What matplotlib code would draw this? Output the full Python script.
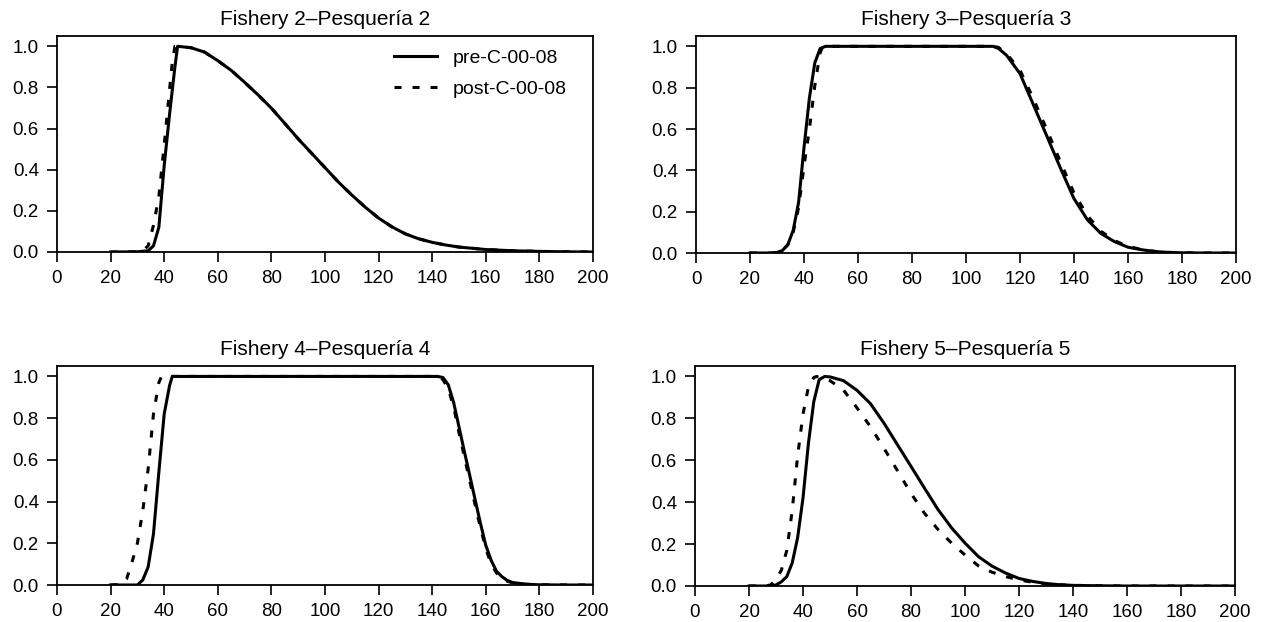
import matplotlib
matplotlib.use("Agg")
import matplotlib.pyplot as plt

plt.rcParams["font.family"] = ["Liberation Sans", "DejaVu Sans"]
plt.rcParams["font.size"] = 14

series_labels = ["pre-C-00-08", "post-C-00-08"]
panel_titles = ["Fishery 2\u2013Pesquer\u00eda 2", "Fishery 3\u2013Pesquer\u00eda 3",
                "Fishery 4\u2013Pesquer\u00eda 4", "Fishery 5\u2013Pesquer\u00eda 5"]

x_ticks = [0, 20, 40, 60, 80, 100, 120, 140, 160, 180, 200]
y_ticks = [0.0, 0.2, 0.4, 0.6, 0.8, 1.0]

# Fishery 2 selectivity at length
f2_len_pre = [20, 30, 34, 36, 38, 40, 42, 44, 45, 50, 55, 60, 65, 70, 75, 80, 85, 90, 95,
              100, 105, 110, 115, 120, 125, 130, 135, 140, 145, 150, 160, 170, 180, 190, 200]
f2_sel_pre = [0, 0.001, 0.006, 0.03, 0.12, 0.42, 0.67, 0.90, 1.0, 0.993, 0.972, 0.93, 0.883,
              0.825, 0.764, 0.699, 0.625, 0.55, 0.48, 0.41, 0.34, 0.277, 0.218, 0.165, 0.122,
              0.088, 0.064, 0.047, 0.034, 0.024, 0.012, 0.006, 0.003, 0.001, 0.0]
f2_len_post = [20, 30, 32, 34, 36, 38, 40, 42, 43, 44, 50, 55, 60, 65, 70, 75, 80, 85, 90, 95,
               100, 105, 110, 115, 120, 125, 130, 135, 140, 145, 150, 160, 170, 180, 190, 200]
f2_sel_post = [0, 0.001, 0.005, 0.03, 0.13, 0.27, 0.52, 0.79, 0.92, 1.0, 0.993, 0.972, 0.93,
               0.883, 0.825, 0.764, 0.699, 0.625, 0.55, 0.48, 0.41, 0.34, 0.277, 0.218, 0.165,
               0.122, 0.088, 0.064, 0.047, 0.034, 0.024, 0.012, 0.006, 0.003, 0.001, 0.0]

# Fishery 3 selectivity at length
f3_len_pre = [20, 28, 30, 32, 34, 36, 38, 40, 42, 44, 46, 48, 110, 112, 115, 120, 125, 130,
              135, 140, 145, 150, 155, 160, 165, 170, 175, 180, 190, 200]
f3_sel_pre = [0, 0.0, 0.003, 0.012, 0.04, 0.11, 0.245, 0.51, 0.75, 0.92, 0.99, 1.0, 1.0, 0.99,
              0.957, 0.868, 0.716, 0.564, 0.41, 0.263, 0.16, 0.094, 0.055, 0.028, 0.016, 0.007,
              0.003, 0.001, 0.0, 0.0]
f3_len_post = [20, 28, 30, 32, 34, 36, 38, 40, 42, 44, 46, 47, 110, 112, 115, 120, 125, 130,
               135, 140, 145, 150, 155, 160, 165, 170, 175, 180, 190, 200]
f3_sel_post = [0, 0.0, 0.003, 0.012, 0.04, 0.10, 0.22, 0.42, 0.60, 0.81, 0.97, 1.0, 1.0, 0.995,
               0.965, 0.885, 0.745, 0.595, 0.44, 0.29, 0.18, 0.105, 0.06, 0.032, 0.017, 0.008,
               0.003, 0.001, 0.0, 0.0]

# Fishery 4 selectivity at length
f4_len_pre = [20, 30, 32, 34, 36, 38, 40, 42, 43, 142, 144, 146, 148, 150, 152, 154, 156, 158,
              160, 162, 164, 166, 168, 170, 175, 180, 190, 200]
f4_sel_pre = [0, 0.0, 0.024, 0.086, 0.245, 0.54, 0.82, 0.956, 1.0, 1.0, 0.995, 0.96, 0.875,
              0.758, 0.64, 0.526, 0.41, 0.296, 0.19, 0.118, 0.066, 0.04, 0.022, 0.012, 0.004,
              0.001, 0.0, 0.0]
f4_len_post = [20, 24, 26, 28, 30, 32, 34, 36, 38, 39, 142, 144, 146, 148, 150, 152, 154, 156,
               158, 160, 162, 164, 166, 168, 170, 175, 180, 190, 200]
f4_sel_post = [0, 0.003, 0.03, 0.11, 0.20, 0.355, 0.555, 0.82, 0.97, 1.0, 1.0, 0.985, 0.94,
               0.855, 0.73, 0.615, 0.50, 0.385, 0.275, 0.175, 0.10, 0.058, 0.033, 0.018, 0.01,
               0.003, 0.001, 0.0, 0.0]

# Fishery 5 selectivity at length
f5_len_pre = [20, 28, 30, 32, 34, 36, 38, 40, 42, 44, 46, 48, 50, 55, 60, 65, 70, 75, 80, 85,
              90, 95, 100, 105, 110, 115, 120, 125, 130, 135, 140, 150, 160, 200]
f5_sel_pre = [0, 0.0, 0.005, 0.02, 0.045, 0.11, 0.23, 0.42, 0.68, 0.88, 0.985, 1.0, 0.998, 0.98,
              0.934, 0.87, 0.777, 0.674, 0.571, 0.467, 0.365, 0.278, 0.205, 0.14, 0.095, 0.062,
              0.036, 0.022, 0.012, 0.006, 0.003, 0.001, 0.0, 0.0]
f5_len_post = [20, 26, 28, 30, 32, 34, 36, 38, 40, 42, 44, 45, 50, 55, 60, 65, 70, 75, 80, 85,
               90, 95, 100, 105, 110, 115, 120, 125, 130, 135, 140, 150, 160, 200]
f5_sel_post = [0, 0.0, 0.005, 0.03, 0.076, 0.17, 0.36, 0.62, 0.82, 0.95, 0.995, 1.0, 0.98, 0.935,
               0.85, 0.76, 0.657, 0.55, 0.442, 0.347, 0.27, 0.205, 0.148, 0.096, 0.066, 0.045,
               0.029, 0.018, 0.01, 0.006, 0.003, 0.001, 0.0, 0.0]

panels = [
    (f2_len_pre, f2_sel_pre, f2_len_post, f2_sel_post),
    (f3_len_pre, f3_sel_pre, f3_len_post, f3_sel_post),
    (f4_len_pre, f4_sel_pre, f4_len_post, f4_sel_post),
    (f5_len_pre, f5_sel_pre, f5_len_post, f5_sel_post),
]

W, H = 1268, 622
fig = plt.figure(figsize=(W / 100, H / 100), dpi=100)

# axes boxes in pixels: left, right, top, bottom
boxes = [(57, 593, 36, 252), (696, 1236, 36, 253),
         (57, 593, 366, 585), (695, 1235, 366, 586)]

dotted = (0, (2.3, 3.6))
for i, ((xa, ya, xb, yb), (l, r, t, b)) in enumerate(zip(panels, boxes)):
    ax = fig.add_axes([l / W, (H - b) / H, (r - l) / W, (b - t) / H])
    ax.plot(xa, ya, color="black", lw=2.2, label=series_labels[0])
    ax.plot(xb, yb, color="black", lw=2.2, linestyle=dotted, label=series_labels[1])
    ax.set_xlim(0, 200)
    ax.set_ylim(0, 1.05)
    ax.set_xticks(x_ticks)
    ax.set_yticks(y_ticks)
    ax.set_yticklabels([f"{v:.1f}" for v in y_ticks])
    ax.tick_params(direction="out", length=7, width=1.2, pad=6, labelsize=13.5)
    for sp in ax.spines.values():
        sp.set_linewidth(1.3)
    ax.set_title(panel_titles[i], fontsize=15, pad=8)
    if i == 0:
        ax.legend(loc="upper left", bbox_to_anchor=(0.629, 0.94), frameon=False,
                  borderpad=0, borderaxespad=0, handlelength=2.2, handletextpad=0.8,
                  labelspacing=0.7, fontsize=14)

fig.savefig("out.png", dpi=100)
